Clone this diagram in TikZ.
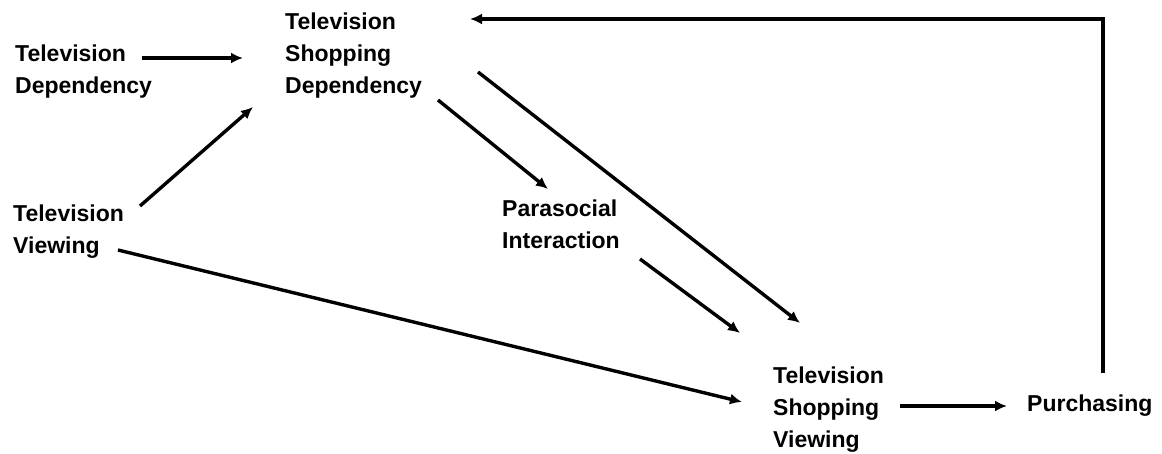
\documentclass[tikz,border=0pt]{standalone}
\usepackage{fontspec}
\setmainfont{Liberation Sans}
\usetikzlibrary{calc,arrows.meta}
\begin{document}
\begin{tikzpicture}[x=1pt,y=-1pt,
  lbl/.style={anchor=north west,inner sep=0pt,align=left,
    font=\bfseries\fontsize{23}{32}\selectfont},
  arr/.style={line width=3.4pt,-{Latex[length=12pt,width=11pt]}}]
\useasboundingbox (0,0) rectangle (1162,453);
\node[lbl] (td) at (15,45) {Television\\Dependency};
\node[lbl] (tsd) at (285,13) {Television\\Shopping\\Dependency};
\node[lbl] (tv) at (13,205) {Television\\Viewing};
\node[lbl] (pi) at (502,200) {Parasocial\\Interaction};
\node[lbl] (tsv) at (773,367) {Television\\Shopping\\Viewing};
\node[lbl] (pu) at (1027,395) {Purchasing};
\draw[arr] ($(td.north west)+(127,13)$) -- ($(tsd.north west)+(-42,45)$);
\draw[arr] ($(tv.north west)+(127,1)$) -- ($(tsd.north west)+(-32,94)$);
\draw[arr] ($(tsd.north west)+(153,87)$) -- ($(pi.north west)+(46,-11)$);
\draw[arr] ($(tsd.north west)+(193,59)$) -- ($(tsv.north west)+(27,-44)$);
\draw[arr] ($(pi.north west)+(138,59)$) -- ($(tsv.north west)+(-33,-34)$);
\draw[arr] ($(tv.north west)+(105,45)$) -- ($(tsv.north west)+(-31,35)$);
\draw[arr] ($(tsv.north west)+(127,39)$) -- ($(pu.north west)+(-20,11)$);
\draw[arr,line join=miter] ($(pu.north west)+(76,-22)$) |- ($(tsd.north west)+(185,6)$);
\end{tikzpicture}
\end{document}
